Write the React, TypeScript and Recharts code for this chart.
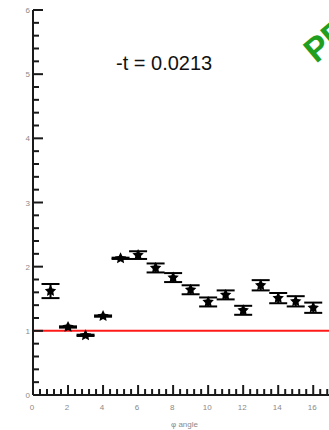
import React from 'react';
import {
  ComposedChart, Scatter, ErrorBar, XAxis, YAxis, ReferenceLine
} from 'recharts';

// phi bins and measured ratio with its uncertainty
const phiBins = [1, 2, 3, 4, 5, 6, 7, 8, 9, 10, 11, 12, 13, 14, 15, 16];
const ratioValues = [1.62, 1.06, 0.93, 1.23, 2.13, 2.18, 1.98, 1.83, 1.64, 1.45, 1.56, 1.32, 1.71, 1.51, 1.46, 1.36];
const ratioErrors = [0.11, 0.01, 0.01, 0.01, 0.01, 0.06, 0.07, 0.07, 0.07, 0.07, 0.07, 0.07, 0.08, 0.08, 0.08, 0.08];

const yTickValues = [0, 0.2, 0.4, 0.6, 0.8, 1, 1.2, 1.4, 1.6, 1.8, 2, 2.2, 2.4, 2.6, 2.8, 3, 3.2, 3.4, 3.6, 3.8, 4, 4.2, 4.4, 4.6, 4.8, 5, 5.2, 5.4, 5.6, 5.8, 6];
const xTickValues = [0, 0.4, 0.8, 1.2, 1.6, 2, 2.4, 2.8, 3.2, 3.6, 4, 4.4, 4.8, 5.2, 5.6, 6, 6.4, 6.8, 7.2, 7.6, 8, 8.4, 8.8, 9.2, 9.6, 10, 10.4, 10.8, 11.2, 11.6, 12, 12.4, 12.8, 13.2, 13.6, 14, 14.4, 14.8, 15.2, 15.6, 16, 16.4, 16.8];
const xLabelled = [0, 2, 4, 6, 8, 10, 12, 14, 16];

const data = phiBins.map((phi, i) => ({ phi, ratio: ratioValues[i], err: ratioErrors[i] }));

const AXIS = '#1a1a1a';
const LABEL = '#8a8a8a';
const MARGIN = 4;

const isInt = (v: number) => Math.abs(v - Math.round(v)) < 1e-6;

const YTick = (props: any) => {
  const { x, y, payload } = props;
  const v = payload.value;
  const ax = x + MARGIN;
  const major = isInt(v);
  return (
    <g>
      <line x1={ax} x2={ax + (major ? 10 : 6)} y1={y} y2={y} stroke={AXIS} strokeWidth={2} />
      {major && (
        <text x={ax - 3} y={y + 3} textAnchor="end" fontSize={8} fill={LABEL}>{v}</text>
      )}
    </g>
  );
};

const XTick = (props: any) => {
  const { x, y, payload } = props;
  const v = payload.value;
  const ay = y - MARGIN;
  const major = isInt(v) && Math.round(v) % 2 === 0;
  const labelled = xLabelled.some((t) => Math.abs(t - v) < 1e-6);
  return (
    <g>
      <line x1={x} x2={x} y1={ay} y2={ay - (major ? 10 : 6)} stroke={AXIS} strokeWidth={2} />
      {labelled && (
        <text x={x - 1} y={ay + 15} textAnchor="middle" fontSize={8} fill={LABEL}>{v}</text>
      )}
    </g>
  );
};

const Star = (props: any) => {
  const { cx, cy } = props;
  if (cx == null || cy == null) return null;
  const pts: string[] = [];
  for (let k = 0; k < 10; k++) {
    const r = k % 2 === 0 ? 6 : 3;
    const a = -Math.PI / 2 + (k * Math.PI) / 5;
    pts.push(`${cx + r * Math.cos(a)},${cy + r * Math.sin(a)}`);
  }
  return <polygon points={pts.join(' ')} fill="#000" />;
};

export default function App() {
  return (
    <div
      style={{
        position: 'absolute', left: 0, top: 0, width: 329, height: 430,
        overflow: 'hidden', background: '#fff',
        fontFamily: '"Liberation Sans", Arial, sans-serif'
      }}
    >
      <ComposedChart width={336} height={430} data={data} margin={{ top: 10, right: 0, bottom: 0, left: 0 }}>
        <XAxis
          xAxisId="top"
          orientation="top"
          type="number"
          dataKey="phi"
          domain={[0, 17.3]}
          height={0}
          tick={false}
          tickLine={false}
          axisLine={{ stroke: AXIS, strokeWidth: 2 }}
        />
        <XAxis
          type="number"
          dataKey="phi"
          domain={[0, 17.3]}
          ticks={xTickValues}
          interval={0}
          height={35}
          tickSize={0}
          tickMargin={MARGIN}
          tickLine={false}
          tick={<XTick />}
          axisLine={{ stroke: AXIS, strokeWidth: 2 }}
          label={{ value: 'φ angle', position: 'insideBottom', offset: 3, fontSize: 8, fill: LABEL }}
        />
        <YAxis
          type="number"
          dataKey="ratio"
          domain={[0, 6]}
          ticks={yTickValues}
          interval={0}
          width={33}
          tickSize={0}
          tickMargin={MARGIN}
          tickLine={false}
          tick={<YTick />}
          axisLine={{ stroke: AXIS, strokeWidth: 2 }}
        />
        <ReferenceLine y={1} stroke="#ff1a1a" strokeWidth={2} />
        <Scatter dataKey="ratio" fill="#000" shape={<Star />} isAnimationActive={false}>
          <ErrorBar dataKey="err" direction="y" width={9} stroke="#000" strokeWidth={2} />
        </Scatter>
      </ComposedChart>
      <svg
        width={329}
        height={430}
        style={{ position: 'absolute', left: 0, top: 0, pointerEvents: 'none' }}
      >
        <text x={116} y={70} fontSize={20} fill="#111">-t = 0.0213</text>
        <text
          x={316}
          y={64}
          fontSize={34}
          fontWeight="bold"
          fill="#1f9e1f"
          transform="rotate(-40 316 64)"
        >
          PRELIMINARY
        </text>
      </svg>
    </div>
  );
}
